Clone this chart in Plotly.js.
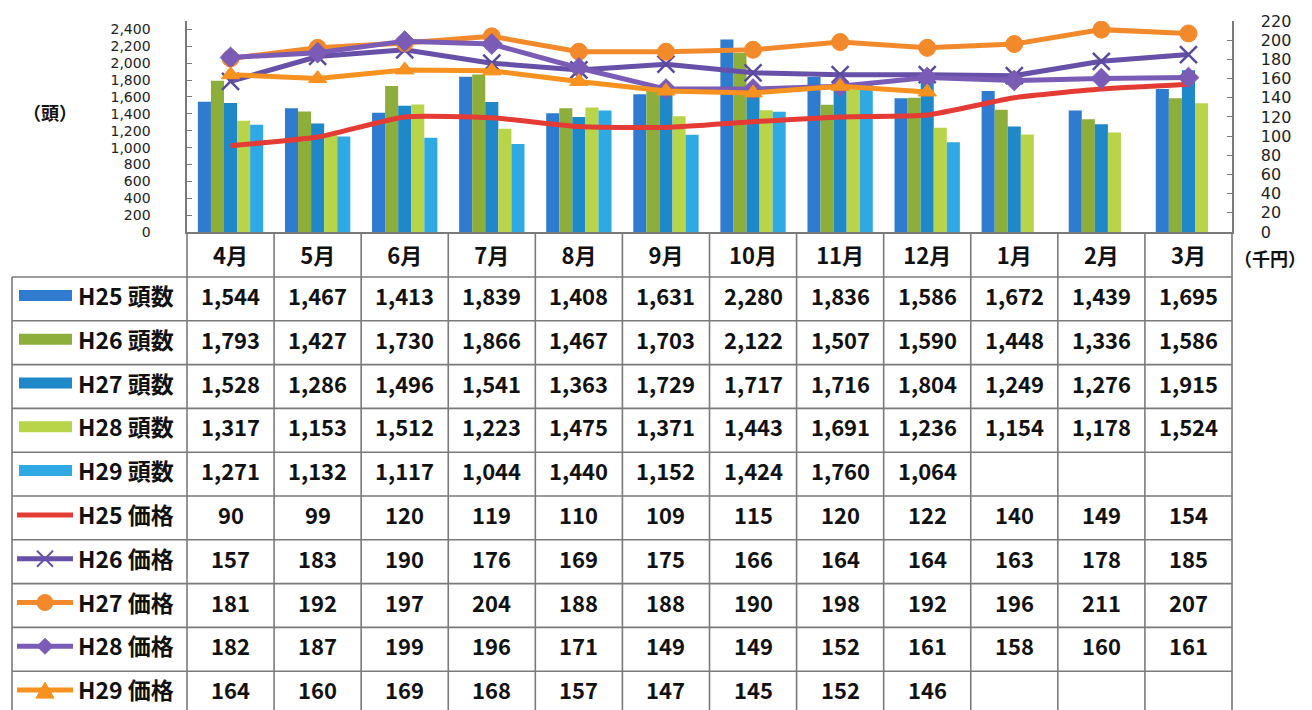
<!DOCTYPE html>
<html>
<head>
<meta charset="utf-8">
<script src="https://cdn.plot.ly/plotly-3.0.1.min.js"></script>
<style>
html,body{margin:0;padding:0;background:#fff;}
#chart{width:1312px;height:710px;}
</style>
</head>
<body>
<div id="chart"></div>
<script>
// ---------------- data ----------------
const months = ['4月','5月','6月','7月','8月','9月','10月','11月','12月','1月','2月','3月'];

const headH25 = [1544,1467,1413,1839,1408,1631,2280,1836,1586,1672,1439,1695];
const headH26 = [1793,1427,1730,1866,1467,1703,2122,1507,1590,1448,1336,1586];
const headH27 = [1528,1286,1496,1541,1363,1729,1717,1716,1804,1249,1276,1915];
const headH28 = [1317,1153,1512,1223,1475,1371,1443,1691,1236,1154,1178,1524];
const headH29 = [1271,1132,1117,1044,1440,1152,1424,1760,1064,null,null,null];

const priceH25 = [90,99,120,119,110,109,115,120,122,140,149,154];
const priceH26 = [157,183,190,176,169,175,166,164,164,163,178,185];
const priceH27 = [181,192,197,204,188,188,190,198,192,196,211,207];
const priceH28 = [182,187,199,196,171,149,149,152,161,158,160,161];
const priceH29 = [164,160,169,168,157,147,145,152,146,null,null,null];

const headNames  = ['H25 頭数','H26 頭数','H27 頭数','H28 頭数','H29 頭数'];
const priceNames = ['H25 価格','H26 価格','H27 価格','H28 価格','H29 価格'];
const leftAxisTitle = '（頭）';
const rightAxisTitle = '（千円）';

// ---------------- styles ----------------
const barColors  = ['#2E7BCF','#8DAE3B','#1E88C8','#B8D54A','#2EA9E3'];
const lineColors = ['#E53B35','#6650A8','#F28A2C','#7A5CB6','#F7911F'];
const lineSymbols = [null,'x-thin-open','circle','diamond','triangle-up'];

const W = 1312, H = 710, ML = 187, MR = 80, MT = 21, MB = 478;
const PW = W - ML - MR, PH = H - MT - MB;
const px = x => (x - ML) / PW;
const py = y => (H - MB - y) / PH;

const heads = [headH25, headH26, headH27, headH28, headH29];
const prices = [priceH25, priceH26, priceH27, priceH28, priceH29];

const traces = [];
heads.forEach((arr, i) => {
  traces.push({
    type: 'bar', x: months, y: arr, name: headNames[i],
    marker: {color: barColors[i]}, yaxis: 'y', hoverinfo: 'x+y+name'
  });
});
prices.forEach((arr, i) => {
  const t = {
    type: 'scatter', x: months, y: arr, name: priceNames[i], yaxis: 'y2',
    line: {color: lineColors[i], width: 5}, connectgaps: false
  };
  if (i === 0) {
    t.mode = 'lines';
    t.line.shape = 'spline';
    t.line.smoothing = 0.5;
  } else {
    t.mode = 'lines+markers';
    const sym = lineSymbols[i];
    if (sym === 'x-thin-open') {
      t.marker = {symbol: sym, size: 17, line: {color: '#5A4A9E', width: 2.5}, color: '#5A4A9E'};
    } else {
      t.marker = {symbol: sym, size: sym === 'circle' ? 17 : 16, color: lineColors[i],
                  line: {color: lineColors[i], width: 1}};
    }
  }
  traces.push(t);
});

// ---------------- table (shapes + annotations) ----------------
const shapes = [];
const annotations = [];
const gridColor = '#7a7a7a';
const tableLeft = 12;
const headerTop = H - MB;        // 232
const bodyTop = 277;
const rowH = 43.8;
const textShift = -4;
const nCols = months.length;
const colW = 1 / nCols;           // paper width of one month column
const nRows = heads.length + prices.length;

// horizontal lines
for (let k = 0; k <= nRows; k++) {
  const yy = bodyTop + k * rowH;
  if (yy > H) break;
  shapes.push({type:'line', xref:'paper', yref:'paper', x0: px(tableLeft), x1: 1,
    y0: py(yy), y1: py(yy), line:{color:gridColor, width:1.6}});
}
// vertical lines for month columns (header + body)
for (let k = 0; k <= nCols; k++) {
  shapes.push({type:'line', xref:'paper', yref:'paper', x0: k*colW, x1: k*colW,
    y0: py(headerTop), y1: py(H), line:{color:gridColor, width:1.6}});
}
// left border of table
shapes.push({type:'line', xref:'paper', yref:'paper', x0: px(tableLeft), x1: px(tableLeft),
  y0: py(bodyTop), y1: py(H), line:{color:gridColor, width:1.6}});

const tfont = {family:'"Noto Sans CJK JP", "Noto Sans", sans-serif', size:22, color:'#111', weight:'bold'};
const lfont = {family:'"Noto Sans CJK JP", "Noto Sans", sans-serif', size:23, color:'#111', weight:'bold'};

// rows
const allRows = heads.concat(prices);
const allNames = headNames.concat(priceNames);
allRows.forEach((arr, r) => {
  const yc = bodyTop + (r + 0.5) * rowH;
  const yt = yc + textShift;
  // label
  annotations.push({xref:'paper', yref:'paper', x: px(76), y: py(yt), xanchor:'left', yanchor:'middle',
    text: allNames[r], showarrow:false, font: lfont});
  // values
  arr.forEach((v, c) => {
    if (v === null || v === undefined) return;
    const txt = r < heads.length ? v.toLocaleString('en-US') : String(v);
    annotations.push({xref:'paper', yref:'paper', x: (c + 0.5) * colW, y: py(yt), xanchor:'center', yanchor:'middle',
      text: txt, showarrow:false, font: tfont});
  });
  // legend swatch
  const ys = yc - 3;
  if (r < heads.length) {
    shapes.push({type:'rect', xref:'paper', yref:'paper', x0: px(19), x1: px(72),
      y0: py(ys - 6), y1: py(ys + 5), fillcolor: barColors[r], line:{width:0}});
  } else {
    const i = r - heads.length;
    const col = lineColors[i];
    shapes.push({type:'line', xref:'paper', yref:'paper', x0: px(17), x1: px(73),
      y0: py(ys), y1: py(ys), line:{color: col, width: 5}});
    const cx = 45, s = 8;
    const sym = lineSymbols[i];
    if (sym === 'x-thin-open') {
      shapes.push({type:'line', xref:'paper', yref:'paper', x0: px(cx - s), x1: px(cx + s),
        y0: py(ys - s), y1: py(ys + s), line:{color: col, width: 2}});
      shapes.push({type:'line', xref:'paper', yref:'paper', x0: px(cx - s), x1: px(cx + s),
        y0: py(ys + s), y1: py(ys - s), line:{color: col, width: 2}});
    } else if (sym === 'circle') {
      shapes.push({type:'circle', xref:'paper', yref:'paper', x0: px(cx - s), x1: px(cx + s),
        y0: py(ys - s), y1: py(ys + s), fillcolor: col, line:{color: col, width: 1}});
    } else if (sym === 'diamond') {
      const p = `M ${px(cx)} ${py(ys - s)} L ${px(cx + s)} ${py(ys)} L ${px(cx)} ${py(ys + s)} L ${px(cx - s)} ${py(ys)} Z`;
      shapes.push({type:'path', xref:'paper', yref:'paper', path: p, fillcolor: col, line:{color: col, width: 1}});
    } else if (sym === 'triangle-up') {
      const p = `M ${px(cx)} ${py(ys - s)} L ${px(cx + s + 1)} ${py(ys + s)} L ${px(cx - s - 1)} ${py(ys + s)} Z`;
      shapes.push({type:'path', xref:'paper', yref:'paper', path: p, fillcolor: col, line:{color: col, width: 1}});
    }
  }
});

// axis unit titles
annotations.push({xref:'paper', yref:'paper', x: px(50), y: py(112), xanchor:'center', yanchor:'middle',
  text: leftAxisTitle, showarrow:false, font:{family:'"Noto Sans CJK JP", sans-serif', size:18, color:'#111', weight:'bold'}});
annotations.push({xref:'paper', yref:'paper', x: px(1270), y: py(258), xanchor:'center', yanchor:'middle',
  text: rightAxisTitle, showarrow:false, font:{family:'"Noto Sans CJK JP", sans-serif', size:18, color:'#111', weight:'bold'}});

const leftTickFont = {family:'"DejaVu Sans", sans-serif', size:14, color:'#222'};
const rightTickFont = {family:'"DejaVu Sans", sans-serif', size:16, color:'#222'};

const layout = {
  width: W, height: H,
  margin: {l: ML, r: MR, t: MT, b: MB, pad: 0},
  paper_bgcolor: '#fff', plot_bgcolor: '#fff',
  showlegend: false,
  barmode: 'group', bargap: 0.25, bargroupgap: 0,
  xaxis: {
    type: 'category', range: [-0.5, nCols - 0.5], showgrid: false, zeroline: false,
    showline: true, linecolor: gridColor, linewidth: 1.6,
    ticks: '', tickfont: {family:'"Noto Sans CJK JP", sans-serif', size:22, color:'#111', weight:'bold'},
    ticklabelstandoff: 4
  },
  yaxis: {
    range: [0, 2500], tick0: 0, dtick: 200, tickformat: ',d',
    showgrid: false, zeroline: false, showline: true, linecolor: gridColor, linewidth: 1.6,
    ticks: 'inside', ticklen: 5, tickcolor: gridColor, tickfont: leftTickFont, ticklabelstandoff: 32
  },
  yaxis2: {
    overlaying: 'y', side: 'right', range: [0, 220], tick0: 0, dtick: 20,
    showgrid: false, zeroline: false, showline: true, linecolor: gridColor, linewidth: 1.6,
    ticks: 'inside', ticklen: 5, tickcolor: gridColor, tickfont: rightTickFont, ticklabelstandoff: 24
  },
  shapes: shapes,
  annotations: annotations
};

Plotly.newPlot('chart', traces, layout, {displayModeBar: false, staticPlot: true});
</script>
</body>
</html>
